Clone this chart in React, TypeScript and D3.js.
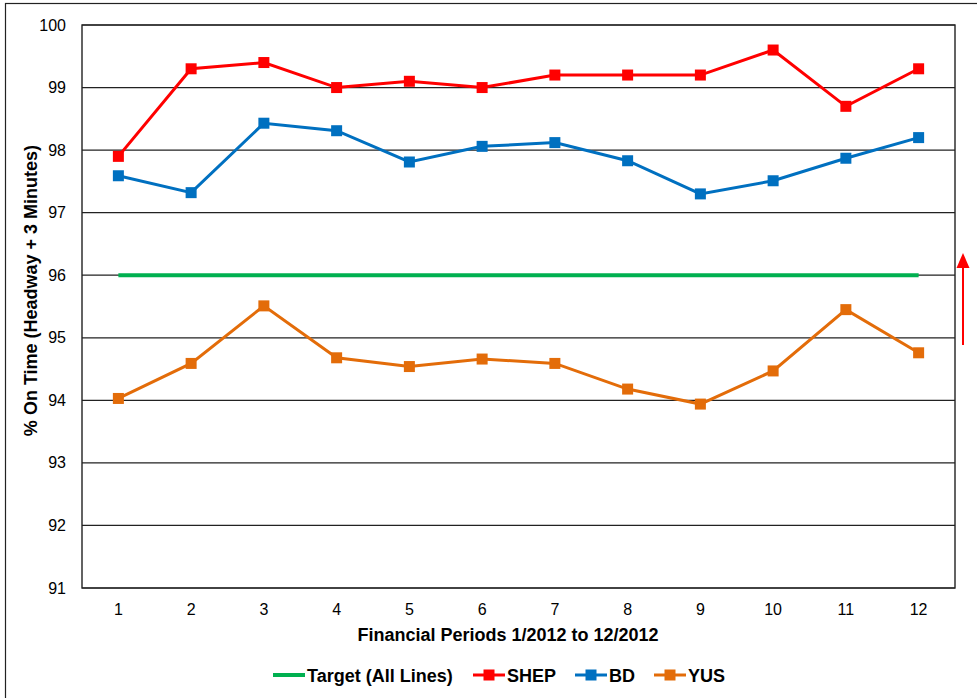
import React from "react";
import * as d3 from "d3";

const periods = ["1", "2", "3", "4", "5", "6", "7", "8", "9", "10", "11", "12"];
const shep = [97.9, 99.3, 99.4, 99.0, 99.1, 99.0, 99.2, 99.2, 99.2, 99.6, 98.7, 99.3];
const bd = [97.59, 97.32, 98.43, 98.31, 97.81, 98.06, 98.12, 97.83, 97.3, 97.51, 97.87, 98.2];
const yus = [94.03, 94.59, 95.51, 94.68, 94.54, 94.66, 94.59, 94.18, 93.94, 94.47, 95.45, 94.76];
const target = 96;
const yTicks = [91, 92, 93, 94, 95, 96, 97, 98, 99, 100];

const W = 977;
const H = 698;
const plot = { left: 82, right: 955, top: 25, bottom: 588 };

const seriesList = [
  { name: "SHEP", values: shep, color: "#FF0000" },
  { name: "BD", values: bd, color: "#0070C0" },
  { name: "YUS", values: yus, color: "#E36C09" },
];

export default function App() {
  const x = d3.scaleBand<string>().domain(periods).range([plot.left, plot.right]);
  const cx = (p: string) => (x(p) as number) + x.bandwidth() / 2;
  const y = d3.scaleLinear().domain([91, 100]).range([plot.bottom, plot.top]);
  const line = d3
    .line<number>()
    .x((_, i) => cx(periods[i]))
    .y((v) => y(v));

  const font = "Arial, 'Liberation Sans', sans-serif";
  const ms = 11;

  const legend = [
    { label: "Target (All Lines)", color: "#00B050", x0: 273, marker: false },
    { label: "SHEP", color: "#FF0000", x0: 473, marker: true },
    { label: "BD", color: "#0070C0", x0: 575, marker: true },
    { label: "YUS", color: "#E36C09", x0: 654, marker: true },
  ];

  return (
    <svg
      width={W}
      height={H}
      style={{ position: "absolute", left: 0, top: 0, background: "#fff" }}
      fontFamily={font}
    >
      <rect x={5.5} y={3.5} width={W + 10} height={H + 10} fill="#fff" stroke="#222" strokeWidth={1.2} />

      {/* horizontal gridlines */}
      {yTicks.map((t) => (
        <line
          key={t}
          x1={plot.left}
          x2={plot.right}
          y1={y(t)}
          y2={y(t)}
          stroke="#222"
          strokeWidth={1.2}
        />
      ))}
      <rect
        x={plot.left}
        y={plot.top}
        width={plot.right - plot.left}
        height={plot.bottom - plot.top}
        fill="none"
        stroke="#222"
        strokeWidth={1.4}
      />

      {/* y tick labels */}
      {yTicks.map((t) => (
        <text key={t} x={66} y={y(t) + 5.5} textAnchor="end" fontSize={16} fill="#000">
          {t}
        </text>
      ))}

      {/* x tick labels */}
      {periods.map((p) => (
        <text key={p} x={cx(p)} y={615} textAnchor="middle" fontSize={16} fill="#000">
          {p}
        </text>
      ))}

      {/* target line */}
      <line
        x1={cx(periods[0])}
        x2={cx(periods[periods.length - 1])}
        y1={y(target)}
        y2={y(target)}
        stroke="#00B050"
        strokeWidth={4}
      />

      {/* series */}
      {seriesList.map((s) => (
        <g key={s.name}>
          <path d={line(s.values) || ""} fill="none" stroke={s.color} strokeWidth={3} />
          {s.values.map((v, i) => (
            <rect
              key={i}
              x={cx(periods[i]) - ms / 2}
              y={y(v) - ms / 2}
              width={ms}
              height={ms}
              fill={s.color}
            />
          ))}
        </g>
      ))}

      {/* upward arrow */}
      <line x1={963} x2={963} y1={345} y2={264} stroke="#FF0000" strokeWidth={2} />
      <path d="M963,253 L956.5,268 L969.5,268 Z" fill="#FF0000" />

      {/* axis titles */}
      <text
        transform={`translate(37,${(plot.top + plot.bottom) / 2 - 16}) rotate(-90)`}
        textAnchor="middle"
        fontSize={18}
        fontWeight="bold"
        fill="#000"
      >
        % On Time (Headway + 3 Minutes)
      </text>
      <text x={508} y={641} textAnchor="middle" fontSize={18} fontWeight="bold" fill="#000">
        Financial Periods 1/2012 to 12/2012
      </text>

      {/* legend */}
      {legend.map((l) => (
        <g key={l.label}>
          <line x1={l.x0} x2={l.x0 + 32} y1={675} y2={675} stroke={l.color} strokeWidth={l.marker ? 3 : 4} />
          {l.marker && <rect x={l.x0 + 16 - 5.5} y={675 - 5.5} width={11} height={11} fill={l.color} />}
          <text x={l.x0 + 34} y={682} fontSize={18} fontWeight="bold" fill="#000">
            {l.label}
          </text>
        </g>
      ))}
    </svg>
  );
}
